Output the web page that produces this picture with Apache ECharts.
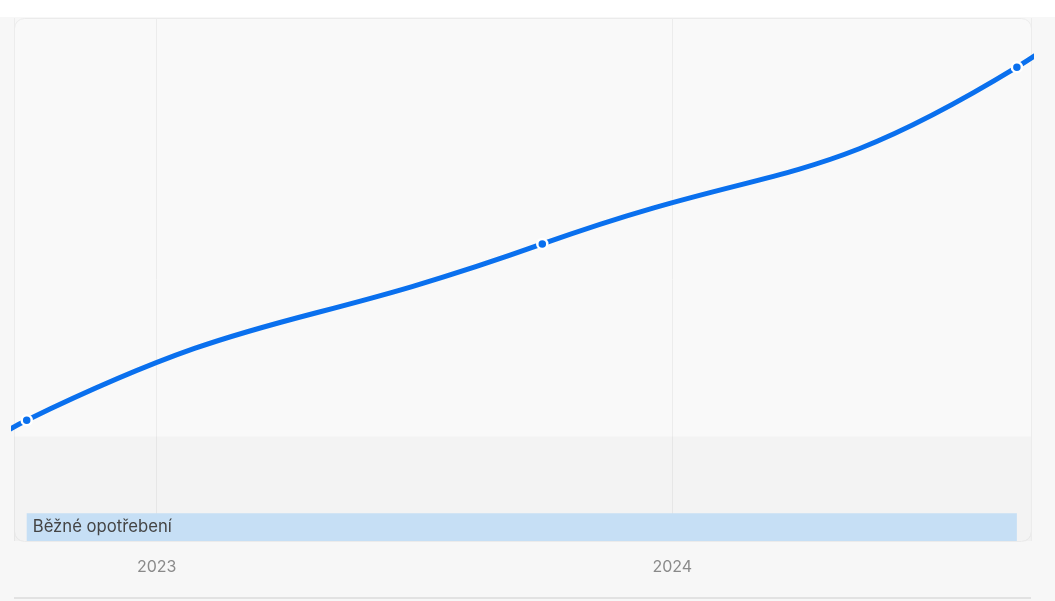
<!DOCTYPE html>
<html>
<head>
<meta charset="utf-8">
<script src="https://cdn.jsdelivr.net/npm/echarts@6/dist/echarts.min.js"></script>
<style>
  html, body { margin: 0; padding: 0; background: #ffffff; }
  #chart { width: 1055px; height: 601px; background: linear-gradient(#ffffff 0 17px, #f7f7f7 17px 100%); }
</style>
</head>
<body>
<div id="chart"></div>
<script>
// Data; outer points only shape the clipped line ends
const dates  = ['2022-07-01', '2022-10-01', '2023-10-01', '2024-09-01', '2025-03-01'];
const values = [-3, 23.1, 56.8, 90.6, 141.7];
const axisMin = '2022-09-22';
const axisMax = '2024-09-11';
const bandName = 'Běžné opotřebení';
const bandRange = [0, 20];
const labelBarRange = [0, 5.3];
const labelBarDates = ['2022-10-01', '2024-09-01'];

const chart = echarts.init(document.getElementById('chart'), null, { renderer: 'canvas' });
const fontFamily = 'Inter, "Noto Sans", "DejaVu Sans", sans-serif';

chart.setOption({
  backgroundColor: 'transparent',
  animation: false,
  grid: {
    left: 14, right: 24, top: 18, bottom: 60,
    show: false
  },
  xAxis: {
    type: 'time',
    min: axisMin,
    max: axisMax,
    minInterval: 365 * 24 * 3600 * 1000,
    maxInterval: 366 * 24 * 3600 * 1000,
    axisLine: { show: false },
    axisTick: { show: false },
    splitLine: { show: true, lineStyle: { color: '#ececec', width: 1 } },
    axisLabel: {
      formatter: '{yyyy}',
      color: '#8a8a8a',
      fontSize: 16,
      fontFamily: fontFamily,
      margin: 18,
      showMinLabel: false,
      showMaxLabel: false
    }
  },
  yAxis: {
    type: 'value',
    min: 0,
    max: 100,
    show: false,
    splitLine: { show: false }
  },
  series: [{
    type: 'line',
    data: dates.map((d, i) => [d, values[i]]),
    smooth: true,
    clip: true,
    symbol: 'circle',
    symbolSize: 10,
    showSymbol: true,
    lineStyle: { color: '#0a70ee', width: 5 },
    itemStyle: { color: '#0a70ee', borderColor: '#ffffff', borderWidth: 2.5 },
    z: 5,
    markArea: {
      silent: true,
      data: [
        [
          { xAxis: axisMin, yAxis: bandRange[0], itemStyle: { color: 'rgba(0,0,0,0.025)' } },
          { xAxis: axisMax, yAxis: bandRange[1] }
        ],
        [
          {
            xAxis: labelBarDates[0], yAxis: labelBarRange[0],
            itemStyle: { color: '#c6dff5' },
            label: {
              show: true,
              formatter: bandName,
              position: 'insideLeft',
              distance: 6,
              color: '#444444',
              fontSize: 16.7,
              fontFamily: fontFamily
            }
          },
          { xAxis: labelBarDates[1], yAxis: labelBarRange[1] }
        ]
      ]
    }
  }],
  graphic: [
    {
      type: 'rect',
      left: 14, top: 18,
      shape: { width: 1017, height: 523, r: 10 },
      style: { fill: '#f9f9f9', stroke: '#ebebeb', lineWidth: 1 },
      silent: true,
      z: -10
    },
    {
      type: 'rect',
      left: 14, top: 597,
      shape: { width: 1017, height: 2 },
      style: { fill: '#e2e2e2' },
      silent: true
    }
  ]
});
</script>
</body>
</html>
